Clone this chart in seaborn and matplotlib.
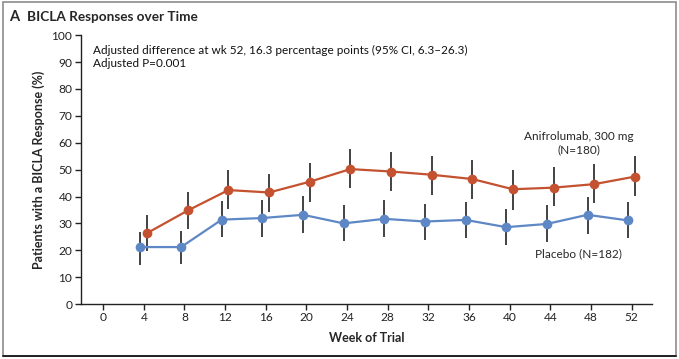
import matplotlib
matplotlib.use("Agg")
import matplotlib.pyplot as plt
from matplotlib.patches import Rectangle
from matplotlib.lines import Line2D
import seaborn as sns
import pandas as pd

# data
weeks = [4, 8, 12, 16, 20, 24, 28, 32, 36, 40, 44, 48, 52]
anif_pct = [26.4, 34.8, 42.4, 41.5, 45.5, 50.2, 49.3, 48.1, 46.5, 42.7, 43.3, 44.6, 47.4]
anif_lo = [19.6, 27.9, 35.3, 34.3, 38.1, 43.3, 42.2, 40.6, 39.1, 35.0, 36.3, 37.5, 40.2]
anif_hi = [33.0, 41.7, 49.7, 48.5, 52.6, 57.6, 56.5, 55.1, 53.6, 49.7, 50.8, 52.0, 54.9]
plac_pct = [21.2, 21.2, 31.4, 32.0, 33.2, 30.0, 31.7, 30.7, 31.3, 28.6, 29.8, 33.2, 31.1]
plac_lo = [14.6, 15.0, 24.8, 25.1, 26.6, 23.3, 25.1, 23.9, 24.5, 22.0, 22.9, 26.1, 24.5]
plac_hi = [26.9, 27.2, 38.4, 38.8, 40.2, 36.9, 38.8, 37.3, 38.1, 35.4, 36.8, 39.8, 37.8]
x_ticks = list(range(0, 56, 4))
y_ticks = list(range(0, 101, 10))

red = "#C4512F"
blue = "#5E87C6"

df = pd.DataFrame({
    "week": weeks * 2,
    "pct": anif_pct + plac_pct,
    "lo": anif_lo + plac_lo,
    "hi": anif_hi + plac_hi,
    "group": ["Anifrolumab"] * len(weeks) + ["Placebo"] * len(weeks),
})
# small horizontal dodge so the bars don't overlap
dodge = {"Anifrolumab": 0.33, "Placebo": -0.33}
df["xpos"] = df["week"] + df["group"].map(dodge)

sns.set_style("ticks")
plt.rcParams["font.family"] = ["Lato", "DejaVu Sans"]

fig = plt.figure(figsize=(6.79, 3.59), dpi=100)
ax = fig.add_axes([0.119, 0.153, 0.841, 0.749])

# error bars first, then the lines/points on top
ax.vlines(df["xpos"], df["lo"], df["hi"], color="#222222", linewidth=1.2, zorder=2)
sns.lineplot(data=df, x="xpos", y="pct", hue="group", palette={"Anifrolumab": red, "Placebo": blue},
             marker="o", markersize=7, markeredgewidth=0, linewidth=1.6, legend=False, ax=ax, zorder=3)

ax.set_xlim(-2.2, 54)
ax.set_ylim(0, 100)
ax.set_xticks(x_ticks)
ax.set_yticks(y_ticks)
ax.tick_params(axis="both", direction="out", length=4, width=1, labelsize=8.6, colors="#222222", pad=2)
sns.despine(ax=ax)
for s in ["left", "bottom"]:
    ax.spines[s].set_linewidth(1)
    ax.spines[s].set_color("#222222")

ax.set_xlabel("Week of Trial", fontsize=9, fontweight="bold", labelpad=6)
ax.set_ylabel("Patients with a BICLA Response (%)", fontsize=9, fontweight="bold", labelpad=5)

ax.text(-1.0, 96.5, "Adjusted difference at wk 52, 16.3 percentage points (95% CI, 6.3\u201326.3)\nAdjusted P=0.001",
        fontsize=8.5, va="top", ha="left", linespacing=1.3, color="#111111")
ax.text(46.8, 60.0, "Anifrolumab, 300 mg\n(N=180)", fontsize=8.5, ha="center", va="center", linespacing=1.25)
ax.text(46.8, 18.6, "Placebo (N=182)", fontsize=8.5, ha="center", va="center")

fig.text(0.013, 0.952, "A", fontsize=10.5, fontweight="bold", va="center")
fig.text(0.040, 0.952, "BICLA Responses over Time", fontsize=9.8, fontweight="bold", va="center")

# panel frame
fig.add_artist(Rectangle((0.004, 0.008), 0.991, 0.986, transform=fig.transFigure,
                         fill=False, edgecolor="#8c8c8c", linewidth=1.2))
fig.add_artist(Line2D([0.004, 0.995], [0.008, 0.008], transform=fig.transFigure, color="#222222", linewidth=1.4))

fig.savefig("out.png", dpi=100, facecolor="white")
